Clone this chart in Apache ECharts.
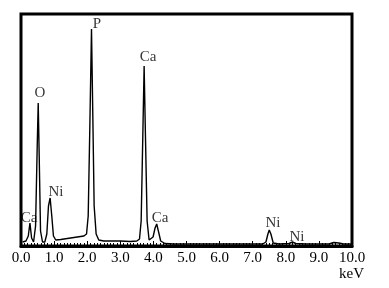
<!DOCTYPE html>
<html><head><meta charset="utf-8">
<script src="https://cdn.jsdelivr.net/npm/echarts@6/dist/echarts.min.js"></script>
<style>html,body{margin:0;padding:0;background:#fff}#c{width:389px;height:288px}</style>
</head><body><div id="c"></div>
<script>
// Spectrum: energy (keV) and intensity (arbitrary units)
const energy = [0.05,0.15,0.22,0.27,0.32,0.38,0.44,0.49,0.52,0.55,0.59,0.65,0.72,0.78,0.83,0.88,0.93,0.98,1.05,1.2,1.4,1.6,1.8,1.9,1.98,2.03,2.08,2.13,2.17,2.21,2.27,2.35,2.5,2.8,3.0,3.3,3.5,3.58,3.63,3.68,3.72,3.76,3.81,3.87,3.93,3.99,4.05,4.1,4.15,4.22,4.35,4.6,5.0,5.5,6.0,6.5,7.0,7.3,7.4,7.46,7.5,7.55,7.62,7.8,8.1,8.2,8.3,8.6,9.0,9.3,9.45,9.6,9.75,10.0];
const counts = [4,5,10,23,8,4,20,100,143,90,15,4,4,12,40,48,30,10,6,6.5,7.5,8.5,9.5,10,12,30,120,217,130,40,12,6,5,5,5,4.5,5,7,25,110,180,110,25,6,5,9,18,22,15,5,2.5,2,2,2,2,2,2,2,4,12,16,12,3,2,2.5,4,2.5,2,2,2,3.5,3,2,2];
// Peak labels: text, label energy, label height
const peakNames = ['O','P','Ca','Ni','Ca','Ca','Ni','Ni'];
const peakLabelE = [0.574,2.296,3.837,1.057,0.242,4.199,7.613,8.338];
const peakLabelH = [153,222,189,54,28,28,23,9];
// Axis ticks
const tickLabels = ['0.0','1.0','2.0','3.0','4.0','5.0','6.0','7.0','8.0','9.0','10.0'];

const chart = echarts.init(document.getElementById('c'), null, {renderer:'canvas'});
const serif = 'Liberation Serif';
chart.setOption({
  animation:false,
  backgroundColor:'#fff',
  grid:{left:21,right:37,top:14,bottom:42,show:true,borderColor:'#000',borderWidth:3,backgroundColor:'transparent'},
  xAxis:{type:'value',min:0,max:10,interval:1,
    axisLine:{show:true,lineStyle:{color:'#000',width:3}},
    axisTick:{show:true,inside:true,length:5,lineStyle:{color:'#000',width:1}},
    minorTick:{show:true,splitNumber:10,length:3,lineStyle:{color:'#000',width:1}},
    splitLine:{show:false},
    axisLabel:{color:'#000',fontFamily:serif,fontSize:15,margin:5,
      formatter:(v)=>tickLabels[Math.round(v)]}},
  yAxis:{type:'value',min:0,max:232,show:false},
  series:[
    {type:'line',data:energy.map((e,i)=>[e,counts[i]]),showSymbol:false,symbol:'none',
     lineStyle:{color:'#000',width:1.4},z:3},
    {type:'scatter',data:peakNames.map((n,i)=>({value:[peakLabelE[i],peakLabelH[i]],name:n})),
     symbolSize:0,
     label:{show:true,position:'inside',formatter:(p)=>p.name,color:'#000',fontFamily:serif,fontSize:15},
     z:4}
  ],
  graphic:[{type:'text',left:339,top:267,style:{text:'keV',fill:'#000',font:'15px "Liberation Serif"'}}]
});
</script></body></html>
